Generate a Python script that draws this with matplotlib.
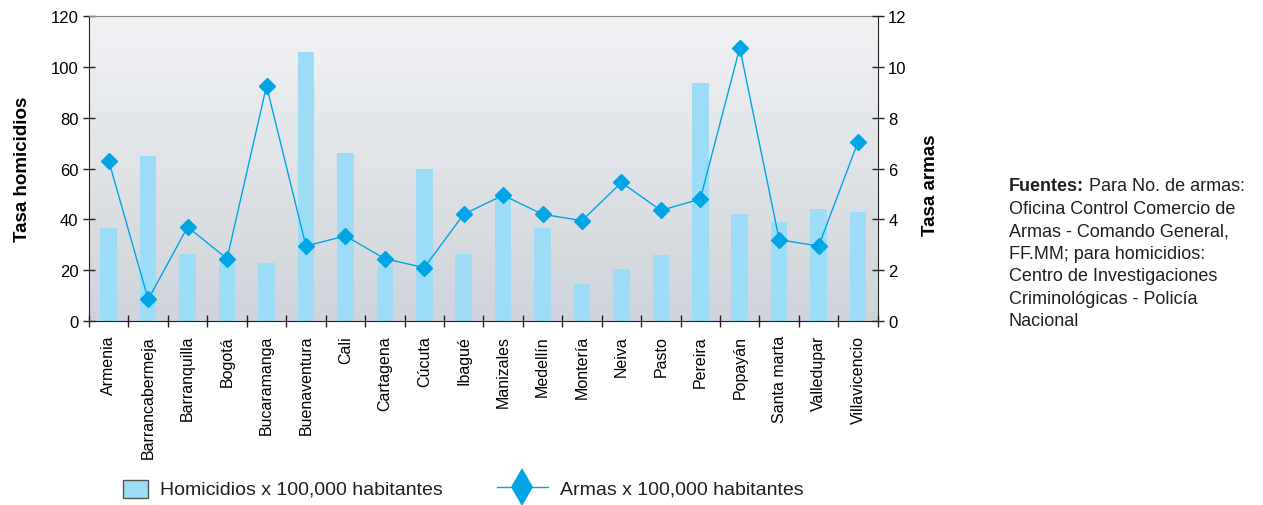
import numpy as np
import matplotlib
matplotlib.use("Agg")
from matplotlib import pyplot as plt
from matplotlib.patches import Rectangle
from matplotlib.lines import Line2D

# Datos por ciudad
ciudades = ["Armenia", "Barrancabermeja", "Barranquilla", "Bogotá", "Bucaramanga",
            "Buenaventura", "Cali", "Cartagena", "Cúcuta", "Ibagué", "Manizales",
            "Medellín", "Montería", "Neiva", "Pasto", "Pereira", "Popayán",
            "Santa marta", "Valledupar", "Villavicencio"]
homicidios = [36.5, 65, 26.5, 24, 23, 106, 66, 22, 60, 26.5, 50,
              36.5, 14.5, 20.5, 25.8, 93.7, 42, 39, 44, 43]
armas = [6.3, 0.85, 3.7, 2.45, 9.25, 2.95, 3.35, 2.45, 2.1, 4.2, 4.95,
         4.2, 3.95, 5.45, 4.35, 4.8, 10.75, 3.2, 2.95, 7.05]

fuentes = ["Oficina Control Comercio de", "Armas - Comando General,",
           "FF.MM; para homicidios:", "Centro de Investigaciones",
           "Criminológicas - Policía", "Nacional"]

bar_color = "#9cdcf7"
line_color = "#00a5e5"
ink = "#231f20"
sans = ["Liberation Sans", "DejaVu Sans"]

fig = plt.figure(figsize=(12.63, 5.06), dpi=100)
ax = fig.add_axes([0.0705, 0.3636, 0.6245, 0.6028])
x = np.arange(len(ciudades))

# fondo degradado
grad = np.linspace(0, 1, 256).reshape(-1, 1)
cmap = matplotlib.colors.LinearSegmentedColormap.from_list("bg", ["#f1f2f4", "#ced4da"])
ax.imshow(grad, extent=[0, 1, 0, 1], transform=ax.transAxes, cmap=cmap,
          aspect="auto", zorder=0, origin="upper")

ax.bar(x, homicidios, width=0.42, color=bar_color, zorder=2)
ax.set_xlim(-0.5, len(ciudades) - 0.5)
ax.set_ylim(0, 120)
ax.set_yticks(range(0, 121, 20))
ax.set_xticks(np.arange(-0.5, len(ciudades), 1))
ax.set_xticklabels([])
ax.set_xticks(x, minor=True)
ax.set_xticklabels(ciudades, minor=True, rotation=90, fontsize=11.5, family=sans)
ax.tick_params(axis="x", which="minor", length=0, pad=10)
ax.tick_params(axis="x", which="major", direction="inout", length=8, width=1, color=ink)
ax.tick_params(axis="y", direction="inout", length=8, width=1, labelsize=12, color=ink)
for lab in ax.get_yticklabels():
    lab.set_family(sans)
ax.set_ylabel("Tasa homicidios", fontsize=13.5, fontweight="bold", family=sans, labelpad=14)

for s in ["left", "bottom"]:
    ax.spines[s].set_color(ink)
ax.spines["top"].set_color("#8a8a8a")
ax.spines["right"].set_visible(False)

ax2 = ax.twinx()
ax2.plot(x, armas, color=line_color, lw=1, marker="D", markersize=8.5, zorder=3)
ax2.set_ylim(0, 12)
ax2.set_yticks(range(0, 13, 2))
ax2.tick_params(axis="y", direction="inout", length=8, width=1, labelsize=12, color=ink)
for lab in ax2.get_yticklabels():
    lab.set_family(sans)
ax2.set_ylabel("Tasa armas", fontsize=13.5, fontweight="bold", family=sans)
ax2.yaxis.set_label_coords(1.056, 0.449)
for s in ["left", "top", "bottom"]:
    ax2.spines[s].set_visible(False)
ax2.spines["right"].set_color(ink)

# leyenda dibujada a mano
W, H = 1263, 506
fig.add_artist(Rectangle((123 / W, 1 - 499 / H), 25 / W, 18 / H, transform=fig.transFigure,
                         facecolor=bar_color, edgecolor="#555555", lw=1))
fig.text(160 / W, 1 - 490 / H, "Homicidios x 100,000 habitantes", fontsize=14,
         family=sans, color=ink, va="center")
fig.add_artist(Line2D([497 / W, 548 / W], [1 - 488 / H] * 2, transform=fig.transFigure,
                      color=line_color, lw=1))
fig.add_artist(Line2D([522 / W], [1 - 488 / H], transform=fig.transFigure, color=line_color,
                      marker="d", markersize=19, markeredgewidth=0))
fig.text(560 / W, 1 - 490 / H, "Armas x 100,000 habitantes", fontsize=14,
         family=sans, color=ink, va="center")

# fuentes
y0 = 187
t1 = fig.text(1009 / W, 1 - y0 / H, "Fuentes:", fontsize=13, fontweight="bold",
              family=sans, color=ink, va="center")
ax.annotate(" Para No. de armas:", xy=(1, 0.5), xycoords=t1, va="center", ha="left",
            fontsize=13, family=sans, color=ink, annotation_clip=False)
for i, linea in enumerate(fuentes):
    fig.text(1009 / W, 1 - (y0 + 22.4 * (i + 1)) / H, linea, fontsize=13,
             family=sans, color=ink, va="center")

fig.savefig("out.png", dpi=100)
